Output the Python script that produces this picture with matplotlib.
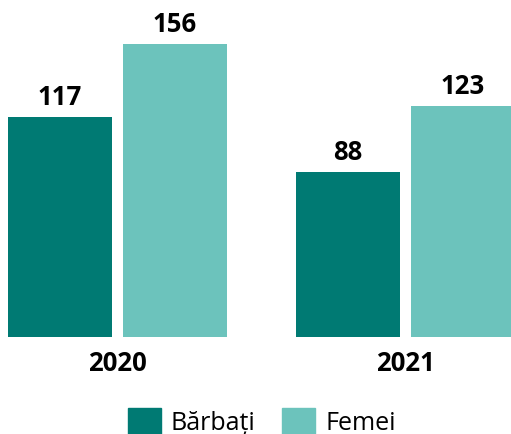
import matplotlib
matplotlib.use("Agg")
import matplotlib.pyplot as plt
from matplotlib.patches import Patch
import numpy as np

# data
years = ["2020", "2021"]
barbati = [117, 88]
femei = [156, 123]
series_names = ["Bărbați", "Femei"]

DARK = "#007a73"
LIGHT = "#6cc3bc"

plt.rcParams['font.family'] = ['Open Sans', 'DejaVu Sans']

fig = plt.figure(figsize=(5.11, 4.35), dpi=100)
# axes: baseline at 97px from bottom, 1.878 px per unit
ax = fig.add_axes([0, 97 / 435, 1, 338 / 435])
ax.set_ylim(0, 338 / 1.878)
ax.set_xlim(-117.5 / 288, (511 - 117.5) / 288)
ax.axis("off")

x = np.arange(len(years))
w = 104 / 288
off = 57.5 / 288

b1 = ax.bar(x - off, barbati, width=w, color=DARK)
b2 = ax.bar(x + off, femei, width=w, color=LIGHT)

for bars, vals in [(b1, barbati), (b2, femei)]:
    for rect, v in zip(bars, vals):
        ax.annotate(str(v), (rect.get_x() + rect.get_width() / 2, v),
                    xytext=(0, 5), textcoords="offset points",
                    ha="center", va="bottom", fontsize=18.5, fontweight="bold")

for xi, yr in zip(x, years):
    ax.annotate(yr, (xi, 0), xytext=(0, -9), textcoords="offset points",
                ha="center", va="top", fontsize=18.5, fontweight="bold",
                annotation_clip=False)

handles = [Patch(color=DARK), Patch(color=LIGHT)]
fig.legend(handles, series_names, loc="center", bbox_to_anchor=(0.512, 0.028),
           ncol=2, frameon=False, fontsize=18, handlelength=1.32,
           handleheight=1.2, handletextpad=0.4, columnspacing=1.08,
           borderaxespad=0, borderpad=0)

fig.savefig("out.png", dpi=100)
